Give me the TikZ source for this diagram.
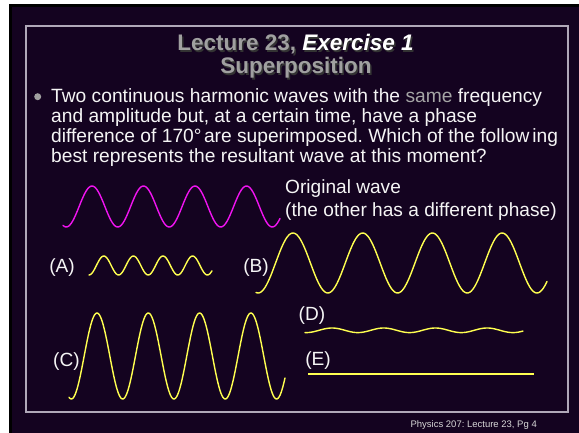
\documentclass[tikz,border=0pt]{standalone}
\usepackage{fontspec}
\setmainfont{Liberation Sans}
\definecolor{bgc}{RGB}{20,3,32}
\definecolor{framec}{RGB}{176,168,184}
\definecolor{titleg}{RGB}{160,160,160}
\definecolor{sameg}{RGB}{165,165,165}
\definecolor{txtc}{RGB}{245,245,245}
\definecolor{magc}{RGB}{240,20,240}
\definecolor{yelc}{RGB}{255,255,80}
\definecolor{footc}{RGB}{215,215,215}
\frenchspacing
\begin{document}
\begin{tikzpicture}[x=1pt,y=-1pt,
  wave/.style={line width=1.4pt, line join=round, line cap=round},
  titlef/.style={font=\fontsize{22.5}{24}\selectfont\bfseries, inner sep=0pt, anchor=base},
  body/.style={font=\fontsize{19.2}{21}\selectfont, text=txtc, anchor=base west, inner sep=0pt},
  lbl/.style={font=\fontsize{19.1}{21}\selectfont, text=txtc, inner sep=0pt}]
\useasboundingbox (0,0) rectangle (579,433);
% background
\fill[white] (0,0) rectangle (579,433);
\fill[black] (9,4) rectangle (579,433);
\fill[bgc] (12,7) rectangle (579,433);
\draw[framec, line width=2pt] (26,26) rectangle (568,412);
% title with shadow
\node[titlef, text=black!80] (t1s) at (297,52.5) {Lecture 23, \textit{Exercise 1}};
\node[titlef, text=titleg] (t1) at (295.5,51) {Lecture 23, \textit{\textcolor{white}{Exercise 1}}};
\node[titlef, text=black!80] (t2s) at (297.5,75.5) {Superposition};
\node[titlef, text=titleg] (t2) at (296,74) {Superposition};
% bullet and body
\node[circle, fill=titleg, inner sep=0pt, minimum size=7pt] (bul) at (37.7,96.7) {};
\node[body] (l1) at (51,102.5) {Two continuous harmonic waves with the \textcolor{sameg}{same} frequency};
\node[body] (l2) at (51,122.3) {and amplitude but, at a certain time, have a phase};
\node[body] (l3) at (51,142.3) {difference of 170°\kern2.5pt are superimposed. Which of the follow\kern3pt ing};
\node[body] (l4) at (51,162.3) {best represents the resultant wave at this moment?};
% original wave
\draw[wave, magc, domain=63:280, samples=160, smooth] plot (\x, {206.5-20.5*cos((\x-92)/51.5*360)});
\node[lbl, anchor=west] (ow) at (285,189) {Original wave};
\node[lbl, anchor=west] (ow2) at (285,212) {(the other has a different phase)};
% A
\node[lbl] (la) at (62,268) {(A)};
\draw[wave, yelc, domain=89:212, samples=120, smooth] plot (\x, {265.5+9.5*cos((\x-89)/29.6*360)});
% B
\node[lbl] (lb) at (256,268) {(B)};
\draw[wave, yelc, domain=256:547, samples=220, smooth] plot (\x, {263-30*cos((\x-293)/69.7*360)});
% C
\node[lbl] (lc) at (66.5,362) {(C)};
\draw[wave, yelc, domain=69:285, samples=220, smooth] plot (\x, {356-43*cos((\x-97)/51.3*360)});
% D
\node[lbl] (ld) at (312,316) {(D)};
\draw[wave, yelc, domain=305:523, samples=160, smooth] plot (\x, {330.3-2.3*cos((\x-332)/51.7*360)});
% E
\node[lbl] (le) at (318,361) {(E)};
\coordinate (e1) at (308,373.7);
\coordinate (e2) at (534,373.7);
\draw[yelc, line width=1.6pt] (e1) -- (e2);
% footer
\node[font=\fontsize{9.5}{11}\selectfont, text=footc, anchor=base east, inner sep=0pt] (foot) at (537,427) {Physics 207: Lecture 23, Pg 4};
\end{tikzpicture}
\end{document}
